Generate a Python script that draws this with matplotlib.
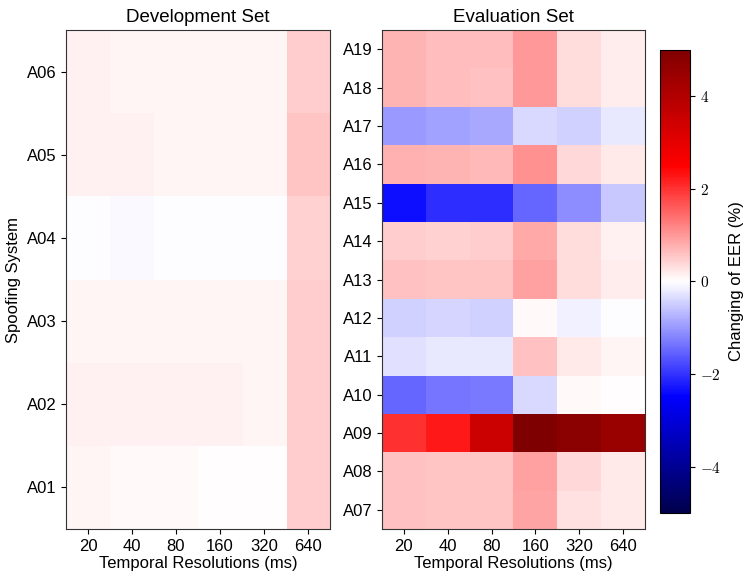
import numpy as np
import matplotlib
matplotlib.use("Agg")
import matplotlib.pyplot as plt
from matplotlib.ticker import FuncFormatter

plt.rcParams['font.family'] = ['Liberation Sans', 'DejaVu Sans']
plt.rcParams['mathtext.fontset'] = 'cm'

resolutions = ["20", "40", "80", "160", "320", "640"]
dev_systems = ["A01", "A02", "A03", "A04", "A05", "A06"]
eval_systems = ["A07", "A08", "A09", "A10", "A11", "A12", "A13",
                "A14", "A15", "A16", "A17", "A18", "A19"]

# rows follow dev_systems order (A01 .. A06)
dev_values = [
    [0.08, 0.05, 0.05, 0.02, 0.02, 0.50],
    [0.14, 0.13, 0.13, 0.13, 0.08, 0.50],
    [0.10, 0.08, 0.08, 0.08, 0.08, 0.50],
    [-0.03, -0.06, -0.03, -0.03, -0.03, 0.45],
    [0.15, 0.14, 0.08, 0.08, 0.08, 0.55],
    [0.12, 0.08, 0.08, 0.08, 0.08, 0.50],
]

# rows follow eval_systems order (A07 .. A19)
eval_values = [
    [0.59, 0.58, 0.58, 0.88, 0.29, 0.22],
    [0.59, 0.58, 0.58, 0.93, 0.36, 0.22],
    [2.01, 2.23, 3.48, 4.99, 4.75, 4.46],
    [-1.52, -1.34, -1.30, -0.36, 0.07, 0.02],
    [-0.29, -0.23, -0.23, 0.59, 0.20, 0.10],
    [-0.46, -0.41, -0.44, 0.07, -0.15, -0.03],
    [0.59, 0.56, 0.57, 0.93, 0.32, 0.17],
    [0.49, 0.46, 0.47, 0.83, 0.32, 0.12],
    [-2.35, -2.06, -2.05, -1.52, -1.13, -0.54],
    [0.78, 0.73, 0.68, 1.08, 0.39, 0.22],
    [-0.98, -0.90, -0.83, -0.39, -0.44, -0.20],
    [0.72, 0.66, 0.62, 0.98, 0.34, 0.17],
    [0.73, 0.64, 0.64, 0.98, 0.34, 0.17],
]

vmin, vmax = -5, 5

fig = plt.figure(figsize=(7.48, 5.82), dpi=100)
ax1 = fig.add_axes([0.0882, 0.0911, 0.353, 0.857])
ax2 = fig.add_axes([0.5107, 0.0911, 0.3516, 0.857])
cax = fig.add_axes([0.8824, 0.1186, 0.0401, 0.7955])

def draw(ax, data, systems, title):
    arr = np.array(data)
    im = ax.imshow(arr, cmap='seismic', vmin=vmin, vmax=vmax,
                   aspect='auto', origin='lower', interpolation='nearest')
    ax.set_xticks(range(len(resolutions)))
    ax.set_xticklabels(resolutions, fontsize=12)
    ax.set_yticks(range(len(systems)))
    ax.set_yticklabels(systems, fontsize=12)
    ax.set_title(title, fontsize=13.5)
    ax.set_xlabel("Temporal Resolutions (ms)", fontsize=12, labelpad=2)
    for s in ax.spines.values():
        s.set_color('#333333')
    return im

im = draw(ax1, dev_values, dev_systems, "Development Set")
ax1.set_ylabel("Spoofing System", fontsize=12)
draw(ax2, eval_values, eval_systems, "Evaluation Set")

cb = fig.colorbar(im, cax=cax, ticks=[-4, -2, 0, 2, 4])
cb.ax.yaxis.set_major_formatter(FuncFormatter(lambda v, p: r"$%d$" % v if v >= 0 else r"$-%d$" % (-v)))
cb.ax.tick_params(labelsize=11)
cb.set_label("Changing of EER (%)", fontsize=12, labelpad=6)

fig.savefig("out.png", dpi=100)
